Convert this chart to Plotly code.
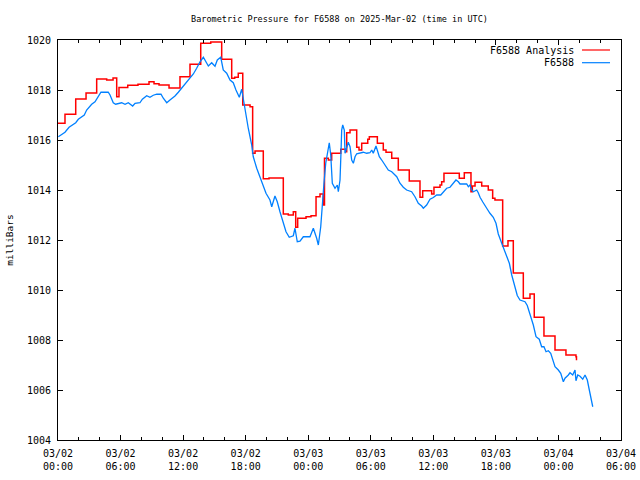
import pandas as pd
import plotly.graph_objects as go

# ---- data (hours after 2025-03-02 00:00 UTC, pressure in mbar) ----
analysis_hours = [0.0, 0.67, 1.70, 2.69, 3.71, 4.67, 5.28, 5.63, 5.85, 6.69, 7.67, 8.73, 9.21, 9.69,
                  10.65, 11.70, 12.66, 13.69, 14.65, 15.70, 16.66, 16.95, 17.29, 17.72, 18.42, 18.67,
                  18.90, 19.69, 20.24, 21.61, 22.09, 22.57, 22.80, 22.99, 23.79, 24.27, 24.75, 25.13,
                  25.45, 25.56, 25.93, 26.25, 27.12, 27.59, 27.69, 28.01, 28.65, 28.87, 29.13, 29.71,
                  29.86, 30.63, 31.20, 31.46, 32.01, 32.64, 33.69, 34.72, 34.98, 35.84, 36.06, 36.64,
                  36.80, 37.02, 38.49, 38.97, 39.61, 39.74, 40.00, 40.64, 41.27, 41.69, 41.91, 42.65,
                  43.16, 43.67, 44.63, 45.27, 45.68, 46.61, 47.67, 48.72, 49.68, 49.73]
analysis_values = [1016.67, 1017.03, 1017.64, 1017.88, 1018.44, 1018.40, 1018.48, 1017.73, 1018.10,
                   1018.19, 1018.23, 1018.33, 1018.25, 1018.20, 1018.08, 1018.53, 1019.03, 1019.87,
                   1019.92, 1019.23, 1018.47, 1018.51, 1018.67, 1017.40, 1017.33, 1015.47, 1015.56,
                   1014.45, 1014.48, 1013.04, 1013.00, 1013.13, 1012.51, 1012.87, 1012.93, 1012.97,
                   1013.73, 1013.84, 1013.40, 1015.27, 1015.20, 1015.47, 1015.63, 1015.53, 1016.29,
                   1016.40, 1015.71, 1015.60, 1015.87, 1016.03, 1016.13, 1015.87, 1015.60, 1015.51,
                   1015.27, 1014.80, 1014.36, 1013.71, 1013.97, 1013.84, 1014.11, 1014.20, 1014.33,
                   1014.67, 1014.47, 1014.69, 1013.93, 1014.16, 1014.31, 1014.16, 1014.00, 1013.67,
                   1013.60, 1011.76, 1011.97, 1010.68, 1009.67, 1009.84, 1008.91, 1008.16, 1007.60,
                   1007.40, 1007.33, 1007.19]

station_hours = [0.03, 0.35, 0.67, 1.06, 1.70, 1.95, 2.52, 2.75, 3.23, 3.55, 3.87, 4.12, 4.82, 4.99,
                 5.30, 5.53, 6.11, 6.43, 6.74, 7.16, 7.39, 7.86, 8.09, 8.51, 8.82, 9.14, 9.47, 9.88,
                 10.10, 10.43, 10.74, 11.22, 11.54, 11.86, 12.34, 12.66, 12.98, 13.30, 13.62, 13.94,
                 14.26, 14.42, 14.74, 15.06, 15.28, 15.61, 15.85, 16.18, 16.50, 16.81, 17.07, 17.39,
                 17.62, 17.77, 18.03, 18.25, 18.58, 18.73, 19.06, 19.37, 19.63, 19.95, 20.33, 20.50,
                 20.81, 21.03, 21.29, 21.55, 21.87, 22.18, 22.57, 22.73, 22.95, 23.21, 23.53, 24.17,
                 24.49, 24.81, 24.97, 25.20, 25.35, 25.51, 25.68, 25.83, 26.02, 26.16, 26.31, 26.57,
                 26.79, 26.89, 27.05, 27.14, 27.21, 27.31, 27.46, 27.53, 27.69, 27.84, 28.01, 28.17,
                 28.33, 28.49, 28.65, 28.97, 29.28, 29.61, 29.92, 30.09, 30.24, 30.50, 30.63, 30.82,
                 31.05, 31.36, 31.68, 32.01, 32.49, 32.80, 33.12, 33.44, 33.92, 34.24, 34.56, 34.88,
                 35.04, 35.36, 35.68, 36.00, 36.32, 36.71, 36.96, 37.28, 37.60, 37.92, 38.17, 38.40,
                 38.56, 39.20, 39.36, 39.52, 39.68, 39.84, 40.16, 40.31, 40.48, 40.73, 40.96, 41.18,
                 41.43, 41.75, 42.01, 42.23, 42.56, 42.87, 43.09, 43.29, 43.52, 43.83, 44.05, 44.31,
                 44.79, 45.01, 45.27, 45.59, 45.85, 46.16, 46.39, 46.61, 46.81, 47.03, 47.26, 47.45,
                 47.67, 47.99, 48.22, 48.47, 48.63, 48.95, 49.11, 49.37, 49.59, 49.68, 49.85, 50.07,
                 50.33, 50.55, 50.77, 50.96, 51.12, 51.29]
station_values = [1016.13, 1016.23, 1016.31, 1016.51, 1016.69, 1016.83, 1017.00, 1017.20, 1017.43,
                  1017.53, 1017.76, 1017.91, 1017.91, 1017.80, 1017.49, 1017.43, 1017.49, 1017.43,
                  1017.49, 1017.36, 1017.47, 1017.49, 1017.63, 1017.77, 1017.71, 1017.79, 1017.83,
                  1017.83, 1017.67, 1017.49, 1017.60, 1017.76, 1017.91, 1018.07, 1018.31, 1018.49,
                  1018.64, 1018.87, 1019.13, 1019.31, 1019.10, 1018.96, 1019.09, 1018.95, 1019.20,
                  1019.31, 1018.80, 1018.67, 1018.40, 1018.29, 1018.00, 1017.71, 1018.03, 1017.63,
                  1016.93, 1016.47, 1015.80, 1015.33, 1014.87, 1014.53, 1014.20, 1013.87, 1013.60,
                  1013.33, 1013.76, 1013.53, 1013.13, 1012.73, 1012.33, 1012.11, 1012.17, 1012.47,
                  1011.93, 1011.95, 1012.13, 1012.13, 1012.47, 1012.07, 1011.80, 1012.53, 1013.60,
                  1014.27, 1015.07, 1015.47, 1015.89, 1015.40, 1014.27, 1014.07, 1014.20, 1013.93,
                  1014.40, 1015.47, 1016.40, 1016.60, 1016.40, 1015.47, 1015.73, 1015.91, 1015.73,
                  1015.20, 1015.07, 1015.33, 1015.45, 1015.47, 1015.51, 1015.47, 1015.49, 1015.60,
                  1015.47, 1015.76, 1015.60, 1015.33, 1015.20, 1015.00, 1014.80, 1014.73, 1014.53,
                  1014.27, 1014.11, 1014.00, 1013.93, 1013.73, 1013.47, 1013.36, 1013.27, 1013.40,
                  1013.63, 1013.70, 1013.80, 1013.80, 1013.93, 1014.07, 1014.11, 1014.29, 1014.40,
                  1014.33, 1014.24, 1014.24, 1014.13, 1014.20, 1014.00, 1013.93, 1014.00, 1013.89,
                  1013.71, 1013.53, 1013.40, 1013.23, 1013.07, 1012.91, 1012.67, 1012.24, 1011.87,
                  1011.55, 1011.35, 1011.07, 1010.60, 1010.13, 1009.78, 1009.60, 1009.53, 1009.38,
                  1009.07, 1008.60, 1008.13, 1008.03, 1007.73, 1007.73, 1007.53, 1007.57, 1007.47,
                  1007.20, 1006.93, 1006.80, 1006.67, 1006.33, 1006.47, 1006.60, 1006.69, 1006.60,
                  1006.80, 1006.37, 1006.60, 1006.55, 1006.43, 1006.60, 1006.40, 1006.00, 1005.67,
                  1005.33]

series_names = ["F6588 Analysis", "F6588"]
series_colors = ["#ff0000", "#0080ff"]

tick_hours = [0, 6, 12, 18, 24, 30, 36, 42, 48, 54]
tick_labels = ["03/02<br>00:00", "03/02<br>06:00", "03/02<br>12:00", "03/02<br>18:00",
               "03/03<br>00:00", "03/03<br>06:00", "03/03<br>12:00", "03/03<br>18:00",
               "03/04<br>00:00", "03/04<br>06:00"]

base = pd.Timestamp("2025-03-02 00:00")
def to_time(hours):
    return [base + pd.Timedelta(hours=h) for h in hours]

fig = go.Figure()
fig.add_trace(go.Scatter(x=to_time(analysis_hours), y=analysis_values, mode="lines",
                         line=dict(color=series_colors[0], width=1.5, shape="hv"),
                         name=series_names[0]))
fig.add_trace(go.Scatter(x=to_time(station_hours), y=station_values, mode="lines",
                         line=dict(color=series_colors[1], width=1.3),
                         name=series_names[1]))

mono = "DejaVu Sans Mono"
PL, PR, PT, PB = 58, 621, 40, 440
pw, ph = PR - PL, PB - PT

# legend drawn gnuplot-style (text right, sample line on the right)
for i, (nm, col) in enumerate(zip(series_names, series_colors)):
    ypix = 50 + i * 12.7
    yp = 1 - (ypix - PT) / ph
    fig.add_annotation(x=(576 - PL) / pw, y=yp, xref="paper", yref="paper", text=nm,
                       showarrow=False, xanchor="right", yanchor="middle",
                       font=dict(family=mono, size=10, color="black"))
    fig.add_shape(type="line", xref="paper", yref="paper",
                  x0=(582 - PL) / pw, x1=(610 - PL) / pw, y0=yp, y1=yp,
                  line=dict(color=col, width=1.2))

fig.update_layout(
    width=640, height=480,
    margin=dict(l=PL, r=640 - PR, t=PT, b=480 - PB, autoexpand=False),
    paper_bgcolor="white", plot_bgcolor="white",
    showlegend=False,
    title=dict(text="Barometric Pressure for F6588 on 2025-Mar-02 (time in UTC)",
               x=0.5, xref="paper", y=1 - 19 / 480, yanchor="middle", xanchor="center",
               font=dict(family=mono, size=8.5, color="black")),
    font=dict(family=mono, size=10, color="black"),
)
fig.update_xaxes(
    range=[base, base + pd.Timedelta(hours=54)], automargin=False,
    tickmode="array", tickvals=to_time(tick_hours), ticktext=tick_labels,
    ticks="inside", ticklen=5, tickcolor="black", tickwidth=1,
    minor=dict(ticks="inside", ticklen=3, tickcolor="black", dtick=2 * 3600000,
               tick0=base, showgrid=False),
    showline=True, linecolor="black", linewidth=1, mirror="ticks",
    showgrid=False, zeroline=False, ticklabelstandoff=4,
    tickfont=dict(family=mono, size=10, color="black"),
)
fig.update_yaxes(
    range=[1004, 1020], dtick=2, tick0=1004, automargin=False,
    ticks="inside", ticklen=5, tickcolor="black", tickwidth=1,
    showline=True, linecolor="black", linewidth=1, mirror="ticks",
    showgrid=False, zeroline=False, ticklabelstandoff=4,
    tickfont=dict(family=mono, size=10, color="black"),
    title=dict(text="milliBars", font=dict(family=mono, size=9.5, color="black"), standoff=11),
)

fig.write_html("out.html")
